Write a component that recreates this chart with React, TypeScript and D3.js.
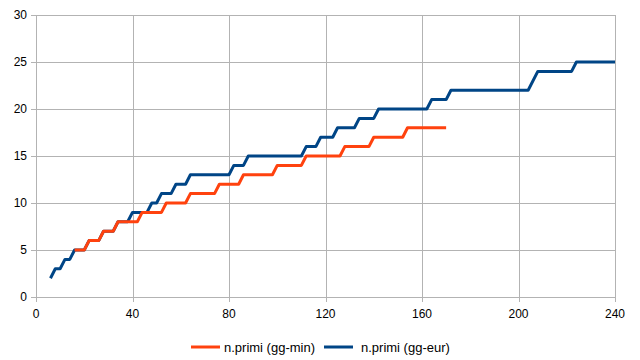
import * as d3 from "d3";
import React from "react";

// n.primi (gg-min): [day, count]
const minX = [16, 20, 22, 26, 28, 32, 34, 42, 44, 52, 54, 62, 64, 74, 76, 84, 86, 98, 100, 110, 112, 126, 128, 138, 140, 152, 154, 170];
const minY = [5, 5, 6, 6, 7, 7, 8, 8, 9, 9, 10, 10, 11, 11, 12, 12, 13, 13, 14, 14, 15, 15, 16, 16, 17, 17, 18, 18];

// n.primi (gg-eur)
const eurX = [6, 8, 10, 12, 14, 16, 20, 22, 26, 28, 32, 34, 38, 40, 46, 48, 50, 52, 56, 58, 62, 64, 80, 82, 86, 88, 110, 112, 116, 118, 123, 125, 132, 134, 140, 142, 162, 164, 170, 172, 204, 208, 222, 224, 240];
const eurY = [2, 3, 3, 4, 4, 5, 5, 6, 6, 7, 7, 8, 8, 9, 9, 10, 10, 11, 11, 12, 12, 13, 13, 14, 14, 15, 15, 16, 16, 17, 17, 18, 18, 19, 19, 20, 20, 21, 21, 22, 22, 24, 24, 25, 25];

const xTicks = [0, 40, 80, 120, 160, 200, 240];
const yTicks = [0, 5, 10, 15, 20, 25, 30];

const seriesNames = ["n.primi (gg-min)", "n.primi (gg-eur)"];
const seriesColors = ["#ff420e", "#004586"];

function Chart() {
  const svgRef = React.useRef<SVGSVGElement>(null);

  React.useEffect(() => {
    const width = 640;
    const height = 360;
    const marginLeft = 36;
    const marginRight = 25;
    const marginTop = 15;
    const marginBottom = 63;
    const font = "'Liberation Sans', Arial, sans-serif";

    const svg = d3.select(svgRef.current);
    svg.selectAll("*").remove();

    const x = d3.scaleLinear().domain([0, 240]).range([marginLeft, width - marginRight]);
    const y = d3.scaleLinear().domain([0, 30]).range([height - marginBottom, marginTop]);

    // grid
    const grid = svg.append("g").attr("stroke", "#b3b3b3").attr("stroke-width", 1);
    yTicks.forEach((t) => {
      grid
        .append("line")
        .attr("x1", x(0) - 5)
        .attr("x2", x(240))
        .attr("y1", Math.round(y(t)) + 0.5)
        .attr("y2", Math.round(y(t)) + 0.5);
    });
    xTicks.forEach((t) => {
      grid
        .append("line")
        .attr("x1", Math.round(x(t)) + 0.5)
        .attr("x2", Math.round(x(t)) + 0.5)
        .attr("y1", y(30))
        .attr("y2", y(0) + 5);
    });

    // tick labels
    svg
      .append("g")
      .selectAll("text")
      .data(yTicks)
      .join("text")
      .attr("x", x(0) - 9)
      .attr("y", (d) => y(d) + 4)
      .attr("text-anchor", "end")
      .attr("font-family", font)
      .attr("font-size", 12)
      .attr("fill", "#000")
      .text((d) => d);

    svg
      .append("g")
      .selectAll("text")
      .data(xTicks)
      .join("text")
      .attr("x", (d) => x(d))
      .attr("y", y(0) + 21)
      .attr("text-anchor", "middle")
      .attr("font-family", font)
      .attr("font-size", 12)
      .attr("fill", "#000")
      .text((d) => d);

    const line = d3
      .line<[number, number]>()
      .x((d) => x(d[0]))
      .y((d) => y(d[1]));

    const eurData = eurX.map((v, i) => [v, eurY[i]] as [number, number]);
    const minData = minX.map((v, i) => [v, minY[i]] as [number, number]);

    [eurData, minData].forEach((data, i) => {
      svg
        .append("path")
        .attr("fill", "none")
        .attr("stroke", seriesColors[1 - i])
        .attr("stroke-width", 3)
        .attr("stroke-linejoin", "round")
        .attr("d", line(data));
    });

    // legend
    const legendX = [191, 324];
    const textGap = [33, 37];
    const ly = 347;
    seriesNames.forEach((name, i) => {
      const g = svg.append("g");
      g.append("line")
        .attr("x1", legendX[i])
        .attr("x2", legendX[i] + 29)
        .attr("y1", ly)
        .attr("y2", ly)
        .attr("stroke", seriesColors[i])
        .attr("stroke-width", 3);
      g.append("text")
        .attr("x", legendX[i] + textGap[i])
        .attr("y", ly + 4.5)
        .attr("font-family", font)
        .attr("font-size", 13)
        .attr("fill", "#000")
        .text(name);
    });
  }, []);

  return (
    <svg
      ref={svgRef}
      width={640}
      height={360}
      style={{ position: "absolute", left: 0, top: 0, background: "#fff" }}
    />
  );
}

export default function App() {
  return <Chart />;
}
